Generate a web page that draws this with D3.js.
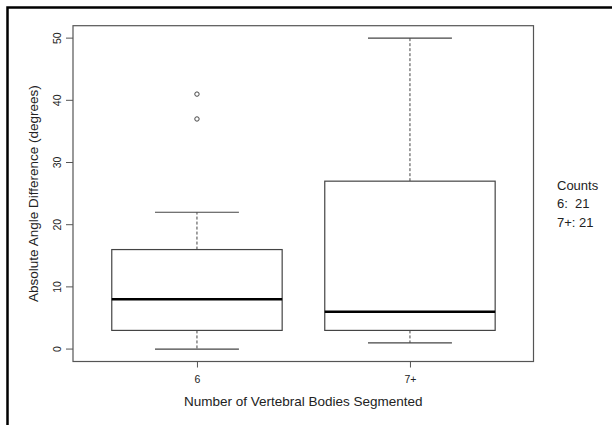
<!DOCTYPE html>
<html>
<head>
<meta charset="utf-8">
<script src="https://cdn.jsdelivr.net/npm/d3@7"></script>
<style>
body { margin: 0; background: #fff; }
text { font-family: "Liberation Sans", Arial, sans-serif; fill: #222; }
</style>
</head>
<body>
<div id="chart"></div>
<script>
var w = 612;
var h = 425;

// box plot summaries
var groups = ["6", "7+"];
var lowWhisker = [0, 1];
var q1 = [3, 3];
var median = [8, 6];
var q3 = [16, 27];
var highWhisker = [22, 50];
var outliers = [[37, 41], []];
var counts = [21, 21];
var yTicks = [0, 10, 20, 30, 40, 50];

var plot = {left: 73, top: 25.7, right: 533.5, bottom: 361.5};

var svg = d3.select("#chart").append("svg").attr("width", w).attr("height", h);

// outer border, cut at right and bottom like the source image
svg.append("rect")
    .attr("x", 7.5).attr("y", 7.5)
    .attr("width", w).attr("height", h)
    .attr("fill", "none").attr("stroke", "#000").attr("stroke-width", 2.5);

var y = d3.scaleLinear().domain([-2, 52]).range([plot.bottom, plot.top]);
var x = d3.scaleLinear().domain([0.418, 2.58]).range([plot.left, plot.right]);

var lineCol = "#444";
var tickFont = "10.5px";

// frame
svg.append("rect")
    .attr("x", plot.left).attr("y", plot.top)
    .attr("width", plot.right - plot.left).attr("height", plot.bottom - plot.top)
    .attr("fill", "none").attr("stroke", "#555").attr("stroke-width", 1.2);

// y axis
var yAxis = svg.append("g")
    .attr("transform", "translate(" + plot.left + ",0)")
    .call(d3.axisLeft(y).tickValues(yTicks).tickSize(7));
yAxis.select(".domain").remove();
yAxis.selectAll(".tick").attr("transform", null);
yAxis.selectAll(".tick line")
    .attr("stroke", "#555")
    .attr("y1", function(d){ return y(d); })
    .attr("y2", function(d){ return y(d); });
yAxis.selectAll(".tick text")
    .attr("font-size", tickFont)
    .attr("font-family", "Liberation Sans, Arial, sans-serif")
    .attr("fill", "#222")
    .attr("x", -15).attr("dy", 0)
    .attr("y", function(d){ return y(d); })
    .attr("transform", function(d){ return "rotate(-90," + (-15) + "," + y(d) + ")"; })
    .attr("text-anchor", "middle")
    .attr("dominant-baseline", "middle");

// x axis
var xAxis = svg.append("g")
    .attr("transform", "translate(0," + plot.bottom + ")")
    .call(d3.axisBottom(x).tickValues([1, 2]).tickFormat(function(d){ return groups[d - 1]; })
        .tickSize(6).tickPadding(8));
xAxis.select(".domain").remove();
xAxis.selectAll("line").attr("stroke", "#555");
xAxis.selectAll("text")
    .attr("font-size", tickFont)
    .attr("font-family", "Liberation Sans, Arial, sans-serif")
    .attr("fill", "#222");

var boxHalf = 0.4;
var capHalf = 0.197;

groups.forEach(function(g, i){
    var cx = i + 1;
    // whiskers
    svg.append("line")
        .attr("x1", x(cx)).attr("x2", x(cx))
        .attr("y1", y(q3[i])).attr("y2", y(highWhisker[i]))
        .attr("stroke", lineCol).attr("stroke-dasharray", "3,2");
    svg.append("line")
        .attr("x1", x(cx)).attr("x2", x(cx))
        .attr("y1", y(q1[i])).attr("y2", y(lowWhisker[i]))
        .attr("stroke", lineCol).attr("stroke-dasharray", "3,2");
    // caps
    [lowWhisker[i], highWhisker[i]].forEach(function(v){
        svg.append("line")
            .attr("x1", x(cx - capHalf)).attr("x2", x(cx + capHalf))
            .attr("y1", y(v)).attr("y2", y(v))
            .attr("stroke", lineCol).attr("stroke-width", 1.2);
    });
    // box
    svg.append("rect")
        .attr("x", x(cx - boxHalf)).attr("y", y(q3[i]))
        .attr("width", x(cx + boxHalf) - x(cx - boxHalf))
        .attr("height", y(q1[i]) - y(q3[i]))
        .attr("fill", "#fff").attr("stroke", lineCol).attr("stroke-width", 1.2);
    // median
    svg.append("line")
        .attr("x1", x(cx - boxHalf)).attr("x2", x(cx + boxHalf))
        .attr("y1", y(median[i])).attr("y2", y(median[i]))
        .attr("stroke", "#000").attr("stroke-width", 2.5);
    // outliers
    svg.selectAll(".out" + i).data(outliers[i]).enter().append("circle")
        .attr("cx", x(cx)).attr("cy", function(d){ return y(d); })
        .attr("r", 2.2)
        .attr("fill", "none").attr("stroke", lineCol).attr("stroke-width", 1);
});

// axis titles
svg.append("text")
    .attr("x", (plot.left + plot.right) / 2).attr("y", 406)
    .attr("text-anchor", "middle").attr("font-size", "13.5px")
    .text("Number of Vertebral Bodies Segmented");
svg.append("text")
    .attr("transform", "translate(37.5," + ((plot.top + plot.bottom) / 2) + ") rotate(-90)")
    .attr("text-anchor", "middle").attr("font-size", "13.5px")
    .text("Absolute Angle Difference (degrees)");

// counts legend
var legend = ["Counts"].concat(groups.map(function(g, i){
    return g + ":" + (g.length < 2 ? "  " : " ") + counts[i];
}));
svg.selectAll(".legend").data(legend).enter().append("text")
    .attr("x", 557).attr("y", function(d, i){ return 189.5 + i * 18.5; })
    .attr("font-size", "13px")
    .attr("xml:space", "preserve")
    .style("white-space", "pre")
    .text(function(d){ return d; });
</script>
</body>
</html>
